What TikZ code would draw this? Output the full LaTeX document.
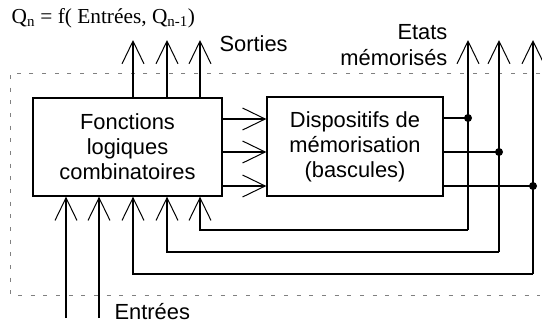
\documentclass[tikz,border=0pt]{standalone}
\usepackage{fontspec}
\setmainfont{Liberation Sans}
\newfontfamily\timesfont{Liberation Serif}
\usetikzlibrary{arrows.meta}

\begin{document}
\begin{tikzpicture}[x=0.75pt,y=-0.75pt,line width=0.9pt,
		texte/.style={inner sep=0pt,font=\fontsize{16.4}{19.5}\selectfont},
		bloc/.style={draw,line width=1pt,inner sep=0pt,align=center,font=\fontsize{16.4}{18.75}\selectfont},
		fleche/.style={-{Straight Barb[length=17pt,width=16.5pt,line width=0.75pt]}},
		cadre/.style={gray,line width=0.75pt,dash pattern=on 3pt off 6.5pt}]
		\useasboundingbox (0,0) rectangle (542,325);
		\draw[cadre] (540,73) -- (10,73) -- (10,295) -- (540,295);
		\node[bloc,minimum width=141.75pt,minimum height=73.5pt] (comb) at (127.5,147) {Fonctions\\logiques\\combinatoires};
		\node[bloc,minimum width=132pt,minimum height=74.25pt] (mem) at (355,146.5) {Dispositifs de\\mémorisation\\(bascules)};
		\node[anchor=west,inner sep=0pt,font=\timesfont\fontsize{16}{18}\selectfont] (loi) at (11,18) {Q\textsubscript{n} = f( Entrées, Q\textsubscript{n-1})};
		\node[texte,anchor=west] (sorties) at (219,44) {Sorties};
		\node[texte,anchor=east,align=right] (etats) at (448,45) {Etats\\mémorisés};
		\node[texte,anchor=west] (entrees) at (114,312) {Entrées};
		\begin{scope}[fleche]
			\foreach \y in {119,152,186}
				\draw (comb.east |- 0,\y) -- (mem.west |- 0,\y);
			\foreach \x in {133,167,200}
				\draw (comb.north -| \x,0) -- (\x,40);
			\foreach \x in {66,99}
				\draw (\x,318) -- (comb.south -| \x,0);
		\end{scope}
		\foreach \y/\x/\yb/\xb in {118/468/230/200,152/499/252/167,186/533/274/133} {
			\draw (mem.east |- 0,\y) -- (\x,\y);
			\fill (\x,\y) circle (3pt);
			\draw[fleche] (\x,\yb) -- (\x,40);
			\draw[fleche] (\x,\yb) -| (comb.south -| \xb,0);
		}
	\end{tikzpicture}
\end{document}
